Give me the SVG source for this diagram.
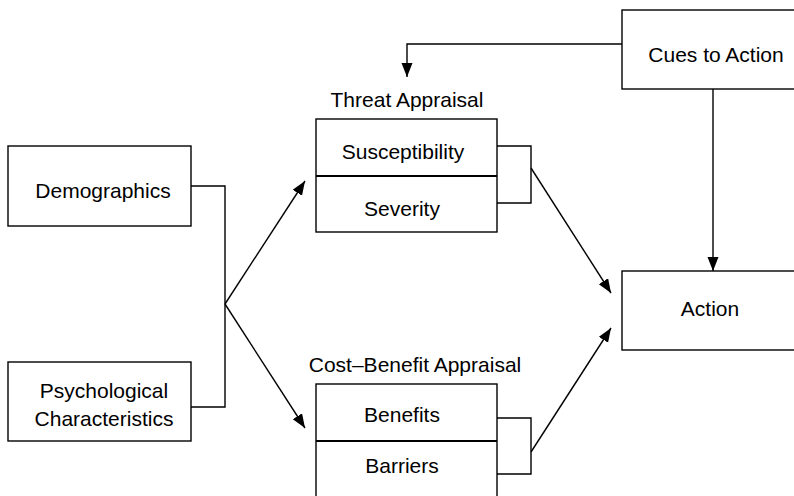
<svg xmlns="http://www.w3.org/2000/svg" width="794" height="496" viewBox="0 0 794 496">
<defs>
<style>
.box{fill:#fff;stroke:#000;stroke-width:1.4}
.div{stroke:#000;stroke-width:2}
.ln{fill:none;stroke:#000;stroke-width:1.4}
text{font-family:"Liberation Sans",Arial,sans-serif;font-size:21px;fill:#000;text-anchor:middle}
</style>
<marker id="ah" markerUnits="userSpaceOnUse" markerWidth="15" markerHeight="12" refX="14" refY="5.5" orient="auto">
<path d="M0,0 L14,5.5 L0,11 z" fill="#000"/>
</marker>
</defs>
<rect width="794" height="496" fill="#fff"/>
<g id="connectors">
<polyline class="ln" points="191,186 225,186 225,407 191,407"/>
<line class="ln" x1="225" y1="304" x2="305" y2="181" marker-end="url(#ah)"/>
<line class="ln" x1="225" y1="304" x2="305" y2="428" marker-end="url(#ah)"/>
<polyline class="ln" points="497,146 531,146 531,203 497,203"/>
<polyline class="ln" points="497,418 531,418 531,474 497,474"/>
<line class="ln" x1="531" y1="168" x2="611" y2="293" marker-end="url(#ah)"/>
<line class="ln" x1="531" y1="452" x2="611" y2="328" marker-end="url(#ah)"/>
<polyline class="ln" points="622,44 407,44 407,77" marker-end="url(#ah)"/>
<line class="ln" x1="713" y1="89" x2="713" y2="271" marker-end="url(#ah)"/>
</g>
<g id="demographics">
<rect class="box" x="8" y="146" width="183" height="80"/>
<text x="103" y="198">Demographics</text>
</g>
<g id="psychological">
<rect class="box" x="8" y="362" width="183" height="79"/>
<text x="104" y="398">Psychological</text>
<text x="104" y="426">Characteristics</text>
</g>
<g id="threat">
<text x="407" y="107">Threat Appraisal</text>
<rect class="box" x="316" y="119" width="181" height="113"/>
<line class="div" x1="316" y1="176" x2="497" y2="176"/>
<text x="403" y="159">Susceptibility</text>
<text x="402" y="216">Severity</text>
</g>
<g id="costbenefit">
<text x="415" y="372">Cost–Benefit Appraisal</text>
<rect class="box" x="316" y="384" width="181" height="130"/>
<line class="div" x1="316" y1="441" x2="497" y2="441"/>
<text x="402" y="422">Benefits</text>
<text x="402" y="473">Barriers</text>
</g>
<g id="cues">
<rect class="box" x="622" y="10" width="190" height="79"/>
<text x="716" y="62">Cues to Action</text>
</g>
<g id="action">
<rect class="box" x="622" y="271" width="190" height="79"/>
<text x="710" y="316">Action</text>
</g>
</svg>
